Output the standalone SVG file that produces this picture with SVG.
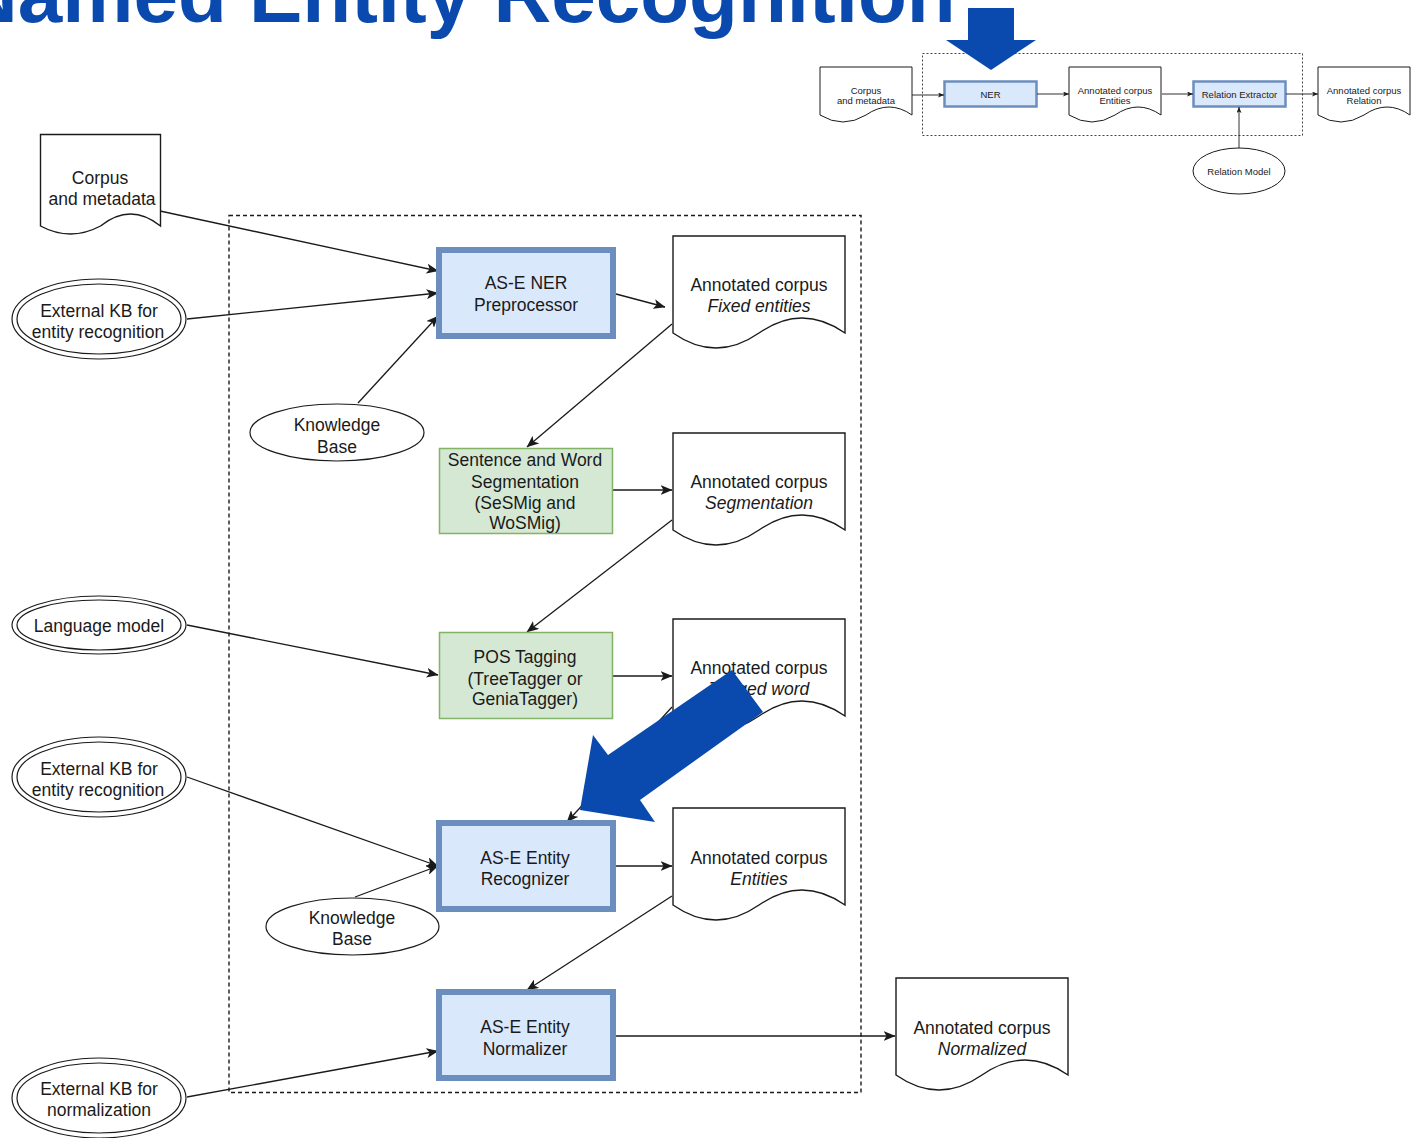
<svg xmlns="http://www.w3.org/2000/svg" xmlns:xlink="http://www.w3.org/1999/xlink" width="1416" height="1138" viewBox="0 0 1416 1138">
<style>
.t{font-family:"Liberation Sans",Arial,sans-serif;font-size:17.5px;fill:#1a1a1a;text-anchor:middle}
.i{font-style:italic}
.m{font-family:"Liberation Sans",Arial,sans-serif;font-size:9.5px;fill:#1a1a1a;text-anchor:middle}
.doc{fill:#fff;stroke:#1a1a1a;stroke-width:1.4}
.ell{fill:#fff;stroke:#1a1a1a;stroke-width:1.2}
.blue{fill:#dae8fc;stroke:#6c8ebf;stroke-width:6}
.bluem{fill:#dae8fc;stroke:#6c8ebf;stroke-width:2.5}
.green{fill:#d5e8d4;stroke:#82b366;stroke-width:1.5}
.c{fill:none;stroke:#1a1a1a;stroke-width:1.3;marker-end:url(#ah)}
.cm{fill:none;stroke:#1a1a1a;stroke-width:0.9;marker-end:url(#ahm)}
.big{fill:#0a4aae}
</style>
<defs>
<marker id="ah" markerUnits="userSpaceOnUse" markerWidth="12" markerHeight="10" viewBox="0 0 12 10" refX="11.5" refY="5" orient="auto"><path d="M0,0 L12,5 L0,10 L3,5 Z" fill="#1a1a1a"/></marker>
<marker id="ahm" markerUnits="userSpaceOnUse" markerWidth="6" markerHeight="5" viewBox="0 0 6 5" refX="6" refY="2.5" orient="auto"><path d="M0,0 L6,2.5 L0,5 L1.5,2.5 Z" fill="#1a1a1a"/></marker>
<path id="docMain" d="M0,0 H172 V97 Q129,67 86,97 Q43,127 0,97 Z"/>
<path id="docMini" d="M0,0 H92 V48 Q69,32 46,48 Q23,62 0,48 Z"/>
</defs>

<text x="-40" y="22" font-family="'Liberation Sans',Arial,sans-serif" font-weight="bold" font-size="80" fill="#0a4aae">Named Entity Recognition</text>

<!-- mini overview -->
<g id="mini">
<rect x="922.5" y="53.5" width="380" height="82" fill="none" stroke="#444" stroke-width="1" stroke-dasharray="2 2"/>
<g id="mini-corpus"><use href="#docMini" x="820" y="67" class="doc" style="stroke-width:1"/><text class="m" x="866" y="94">Corpus</text><text class="m" x="866" y="104">and metadata</text></g>
<g id="mini-ner"><rect x="944.5" y="81.5" width="92" height="25" class="bluem"/><text class="m" x="990.5" y="97.5">NER</text></g>
<g id="mini-entities"><use href="#docMini" x="1069" y="67" class="doc" style="stroke-width:1"/><text class="m" x="1115" y="94">Annotated corpus</text><text class="m" x="1115" y="104">Entities</text></g>
<g id="mini-relex"><rect x="1193.5" y="81.5" width="92" height="25" class="bluem"/><text class="m" x="1239.5" y="97.5">Relation Extractor</text></g>
<g id="mini-relation"><use href="#docMini" x="1318" y="67" class="doc" style="stroke-width:1"/><text class="m" x="1364" y="94">Annotated corpus</text><text class="m" x="1364" y="104">Relation</text></g>
<g id="mini-relmodel"><ellipse cx="1239" cy="171" rx="46" ry="23" class="ell" style="stroke-width:1"/><text class="m" x="1239" y="174.5">Relation Model</text></g>
<g id="mini-connectors">
<path class="cm" d="M912,95 L944,95"/>
<path class="cm" d="M1037,94 L1069,94"/>
<path class="cm" d="M1162,94 L1193,94"/>
<path class="cm" d="M1286,94 L1318,94"/>
<path class="cm" d="M1239,148 L1239,107"/>
</g>
</g>
<polygon class="big" points="968,8 1014,8 1014,40 1036,40 991,70 946,40 968,40"/>

<!-- main diagram -->
<rect id="container" x="229" y="215.5" width="632" height="877" fill="none" stroke="#1a1a1a" stroke-width="1.4" stroke-dasharray="4 3"/>

<g id="connectors">
<path class="c" d="M160,211 L438,271"/>
<path class="c" d="M187,319 L438,293"/>
<path class="c" d="M358,403 L438,316"/>
<path class="c" d="M616,294 L665,307"/>
<path class="c" d="M672,324 L527,447"/>
<path class="c" d="M613,490 L672,490"/>
<path class="c" d="M672,520 L527,632"/>
<path class="c" d="M187,625 L438,675"/>
<path class="c" d="M613,676 L672,676"/>
<path class="c" d="M672,707 L567,822"/>
<path class="c" d="M187,777 L438,866"/>
<path class="c" d="M355,897 L438,866"/>
<path class="c" d="M616,866 L672,866"/>
<path class="c" d="M672,896 L527,990"/>
<path class="c" d="M187,1097 L438,1051"/>
<path class="c" d="M616,1036 L895,1036"/>
</g>

<g id="corpus"><path class="doc" d="M40.5,134.5 H160.5 V226 Q130.5,202 100.5,226 Q70.5,242 40.5,226 Z"/><text class="t" x="100" y="184">Corpus</text><text class="t" x="102" y="205">and metadata</text></g>

<g id="extkb1"><ellipse cx="99" cy="319" rx="87" ry="40" class="ell"/><ellipse cx="99" cy="319" rx="82" ry="35" class="ell"/><text class="t" x="99" y="317">External KB for</text><text class="t" x="98" y="338">entity recognition</text></g>

<g id="ner-pre"><rect x="439" y="250" width="174" height="86" class="blue"/><text class="t" x="526" y="289">AS-E NER</text><text class="t" x="526" y="311">Preprocessor</text></g>

<g id="doc-fixed"><use href="#docMain" x="673" y="236" class="doc"/><text class="t" x="759" y="291">Annotated corpus</text><text class="t i" x="759" y="312">Fixed entities</text></g>

<g id="kb1"><ellipse cx="337" cy="432.5" rx="87" ry="28.5" class="ell"/><text class="t" x="337" y="431">Knowledge</text><text class="t" x="337" y="453">Base</text></g>

<g id="seg"><rect x="439.5" y="448.5" width="173" height="85" class="green"/><text class="t" x="525" y="466">Sentence and Word</text><text class="t" x="525" y="488">Segmentation</text><text class="t" x="525" y="509">(SeSMig and</text><text class="t" x="525" y="529">WoSMig)</text></g>

<g id="doc-seg"><use href="#docMain" x="673" y="433" class="doc"/><text class="t" x="759" y="488">Annotated corpus</text><text class="t i" x="759" y="509">Segmentation</text></g>

<g id="langmodel"><ellipse cx="99" cy="625" rx="87" ry="29" class="ell"/><ellipse cx="99" cy="625" rx="82" ry="25" class="ell"/><text class="t" x="99" y="632">Language model</text></g>

<g id="pos"><rect x="439.5" y="632.5" width="173" height="86" class="green"/><text class="t" x="525" y="663">POS Tagging</text><text class="t" x="525" y="685">(TreeTagger or</text><text class="t" x="525" y="705">GeniaTagger)</text></g>

<g id="doc-tagged"><use href="#docMain" x="673" y="619" class="doc"/><text class="t" x="759" y="674">Annotated corpus</text><text class="t i" x="759" y="695">Tagged word</text></g>

<g id="extkb2"><ellipse cx="99" cy="777" rx="87" ry="40" class="ell"/><ellipse cx="99" cy="777" rx="82" ry="35" class="ell"/><text class="t" x="99" y="775">External KB for</text><text class="t" x="98" y="796">entity recognition</text></g>

<g id="recognizer"><rect x="439" y="823" width="174" height="86" class="blue"/><text class="t" x="525" y="864">AS-E Entity</text><text class="t" x="525" y="885">Recognizer</text></g>

<g id="doc-entities"><use href="#docMain" x="673" y="808" class="doc"/><text class="t" x="759" y="864">Annotated corpus</text><text class="t i" x="759" y="885">Entities</text></g>

<g id="kb2"><ellipse cx="352.5" cy="926.5" rx="86.5" ry="28.5" class="ell"/><text class="t" x="352" y="924">Knowledge</text><text class="t" x="352" y="945">Base</text></g>

<g id="normalizer"><rect x="439" y="992" width="174" height="86" class="blue"/><text class="t" x="525" y="1033">AS-E Entity</text><text class="t" x="525" y="1055">Normalizer</text></g>

<g id="doc-normalized"><use href="#docMain" x="896" y="978" class="doc"/><text class="t" x="982" y="1034">Annotated corpus</text><text class="t i" x="982" y="1055">Normalized</text></g>

<g id="extkb-norm"><ellipse cx="99" cy="1098" rx="87" ry="40" class="ell"/><ellipse cx="99" cy="1098" rx="82" ry="35" class="ell"/><text class="t" x="99" y="1095">External KB for</text><text class="t" x="99" y="1116">normalization</text></g>

<polygon class="big" points="732,670 763,712 640,800 655,822 580,810 593,735 608,755"/>
</svg>
